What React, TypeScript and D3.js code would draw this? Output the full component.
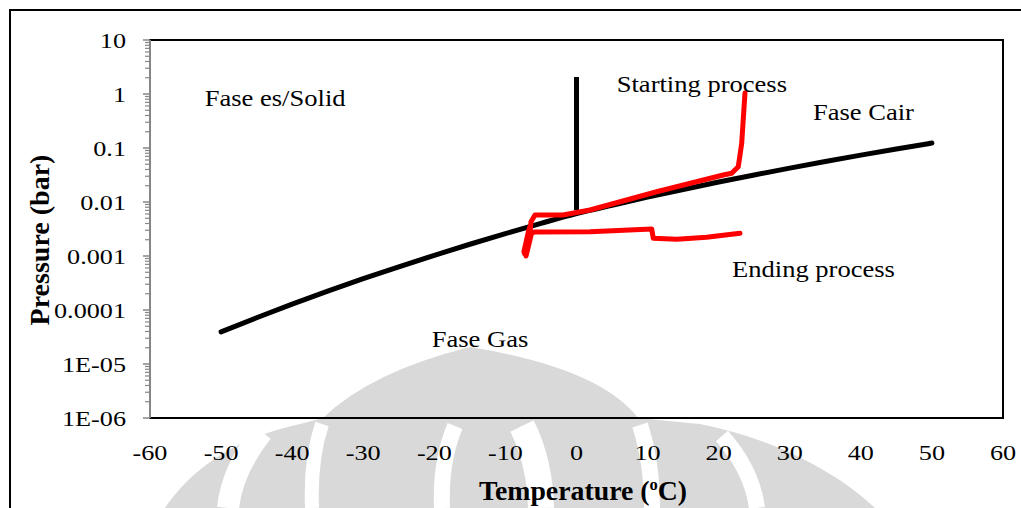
import React from 'react';
import * as d3 from 'd3';

const W = 1021;
const H = 508;

// axis ticks
const xTicks = [-60, -50, -40, -30, -20, -10, 0, 10, 20, 30, 40, 50, 60];
const yTicks = [1e-6, 1e-5, 1e-4, 1e-3, 1e-2, 1e-1, 1, 10];
const yTickLabels = ['1E-06', '1E-05', '0.0001', '0.001', '0.01', '0.1', '1', '10'];

// saturation curve (ice / water)
const curveT = [-50, -45, -40, -35, -30, -25, -20, -15, -10, -5, 0, 5, 10, 15, 20, 25, 30, 35, 40, 45, 50];
const curveP = [
  3.94e-5, 7.2e-5, 1.28e-4, 2.23e-4, 3.8e-4, 6.32e-4, 1.03e-3, 1.65e-3, 2.6e-3, 4.02e-3,
  6.11e-3, 8.72e-3, 1.228e-2, 1.705e-2, 2.339e-2, 3.169e-2, 4.246e-2, 5.628e-2, 7.384e-2, 9.593e-2, 0.1235,
];

// vertical line at 0 C
const stemT = [0, 0];
const stemP = [0.0071, 2.07];

// red: starting process
const startT = [23.7, 23.24, 22.76, 21.83, 20.65, 11.28, 1.9, -1.9, -5.84, -6.4, -6.54];
const startP = [1.04, 0.122, 0.045, 0.034, 0.0316, 0.0155, 0.0071, 0.00575, 0.00575, 0.0043, 0.00267];

// red: ending process
const endT = [-6.6, -7.3, -6.7, -7.4, -6.5, -7.1, -6.3, -5.84, 1.9, 10.58, 10.8, 14.1, 18.3, 23.0];
const endP = [0.0034, 0.0011, 0.0031, 0.0012, 0.0029, 0.001, 0.0027, 0.00278, 0.0028, 0.00316, 0.00213, 0.00204, 0.00222, 0.00263];

// annotations (text, T, P)
const noteText = ['Fase es/Solid', 'Starting process', 'Fase Cair', 'Ending process', 'Fase Gas'];
const noteT = [-52.3, 5.66, 33.27, 21.88, -20.37];
const noteP = [0.587, 1.1, 0.33, 4.08e-4, 2.09e-5];

const FONT = "'Liberation Serif', 'Times New Roman', serif";

const SText = ({ x, y, sx = 1.18, size = 22, weight = 'normal', anchor = 'start', children }: any) => (
  <text
    transform={`translate(${x},${y}) scale(${sx},1)`}
    fontFamily={FONT}
    fontSize={size}
    fontWeight={weight}
    textAnchor={anchor}
    fill="#000"
  >
    {children}
  </text>
);

export default function App() {
  const margin = { top: 40, right: 18, bottom: 90, left: 150 };
  const x = d3.scaleLinear().domain([-60, 60]).range([margin.left, W - margin.right]);
  const y = d3.scaleLog().domain([1e-6, 10]).range([H - margin.bottom, margin.top]);

  const zip = (a: number[], b: number[]) => a.map((v, i) => [v, b[i]] as [number, number]);
  const curvePath = d3
    .line<[number, number]>()
    .x((d) => x(d[0]))
    .y((d) => y(d[1]))
    .curve(d3.curveMonotoneX)(zip(curveT, curveP));
  const plain = d3
    .line<[number, number]>()
    .x((d) => x(d[0]))
    .y((d) => y(d[1]));

  const minor: number[] = [];
  yTicks.slice(0, -1).forEach((d) => {
    for (let k = 2; k <= 9; k++) minor.push(d * k);
  });

  const x0 = x(-60);
  const x1 = x(60);
  const yb = y(1e-6);
  const yt = y(10);

  // watermark (background logo)
  const bell =
    `M165,${H} C185,478 225,440 300,424 L323,418 Q370,372 470,347 Q600,368 638,418 ` +
    `L700,424 C780,440 840,475 875,${H} Z`;
  const gaps: [string, number][] = [
    [`M228,${H} Q232,470 262,432`, 22],
    [`M312,${H} Q310,460 322,424`, 14],
    [`M442,${H} Q440,462 455,426`, 16],
    [`M541,${H} Q540,462 522,426`, 26],
    [`M652,${H} Q652,462 640,425`, 16],
    [`M757,${H} Q752,470 722,436`, 16],
  ];

  return (
    <svg width={W} height={H} style={{ position: 'absolute', left: 0, top: 0 }}>
      <rect x={0} y={0} width={W} height={H} fill="#fff" />
      <g>
        <path d={bell} fill="#d9d9d9" />
        {gaps.map(([g, w], i) => (
          <path key={i} d={g} fill="none" stroke="#fff" strokeWidth={w} />
        ))}
      </g>

      {/* outer frame */}
      <rect x={10} y={10} width={W + 40} height={H + 40} fill="none" stroke="#000" strokeWidth={2} />

      {/* plot area */}
      <rect x={x0} y={yt} width={x1 - x0} height={yb - yt} fill="none" stroke="#000" strokeWidth={2} />

      {/* y axis */}
      <line x1={x0} x2={x0} y1={yt} y2={yb} stroke="#868686" strokeWidth={2} />
      {minor.map((v, i) => (
        <line key={'m' + i} x1={x0 - 5} x2={x0} y1={y(v)} y2={y(v)} stroke="#868686" strokeWidth={1.2} />
      ))}
      {yTicks.map((v, i) => (
        <g key={'t' + i}>
          <line x1={x0 - 7} x2={x0} y1={y(v)} y2={y(v)} stroke="#868686" strokeWidth={1.5} />
          <SText x={126} y={y(v) + 8} anchor="end" sx={1.19}>
            {yTickLabels[i]}
          </SText>
        </g>
      ))}

      {/* x axis labels */}
      {xTicks.map((v) => (
        <SText key={v} x={x(v)} y={460} anchor="middle" sx={1.19}>
          {String(v)}
        </SText>
      ))}

      {/* titles */}
      <SText x={583} y={500} size={27} weight="bold" anchor="middle" sx={1.03}>
        Temperature (<tspan fontSize={16} dy={-10}>o</tspan>
        <tspan dy={10}>C)</tspan>
      </SText>
      <text
        transform={`translate(49,240) rotate(-90)`}
        fontFamily={FONT}
        fontSize={28}
        fontWeight="bold"
        textAnchor="middle"
        fill="#000"
      >
        Pressure (bar)
      </text>

      {/* series */}
      <path d={curvePath || ''} fill="none" stroke="#000" strokeWidth={5} strokeLinecap="round" />
      <path d={plain(zip(stemT, stemP)) || ''} fill="none" stroke="#000" strokeWidth={5} />
      <path
        d={plain(zip(startT, startP)) || ''}
        fill="none"
        stroke="#ff0000"
        strokeWidth={5}
        strokeLinejoin="round"
        strokeLinecap="round"
      />
      <path
        d={plain(zip(endT, endP)) || ''}
        fill="none"
        stroke="#ff0000"
        strokeWidth={5}
        strokeLinejoin="round"
        strokeLinecap="round"
      />

      {/* annotations */}
      {noteText.map((t, i) => (
        <SText key={t} x={x(noteT[i])} y={y(noteP[i])} size={22.5}>
          {t}
        </SText>
      ))}
    </svg>
  );
}
